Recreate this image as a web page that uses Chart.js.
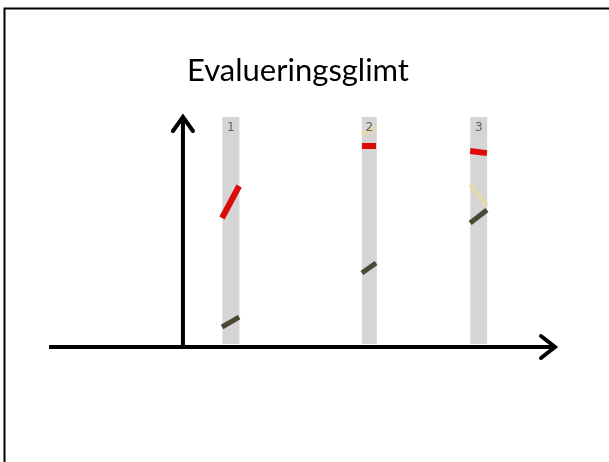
<!DOCTYPE html>
<html>
<head>
<meta charset="utf-8">
<script src="https://cdn.jsdelivr.net/npm/chart.js@4"></script>
<style>
  html, body { margin: 0; padding: 0; background: #fff; }
  #wrap { position: relative; width: 609px; height: 462px; }
</style>
</head>
<body>
<div id="wrap"><canvas id="chartCanvas" width="609" height="462"></canvas></div>
<script>
// values (x: -36..100, y: 0..100)
const titleText = 'Evalueringsglimt';
const stripLabels = ['1', '2', '3'];
const stripX = [12.9, 50.1, 79.5];
const stripBottom = 1.3;
const stripTop = 100;
const segX = [[10.5, 15.1], [48.1, 51.9], [77.2, 81.7]];
const redValues = [[56.1, 70.0], [87.4, 87.4], [85.2, 84.3]];
const beigeValues = [null, [92.2, 95.7], [70.4, 61.7]];
const oliveValues = [[8.7, 13.0], [32.2, 36.5], [53.9, 59.6]];

function segPoints(values){
    let pts = [];
    segX.forEach((xs, i) => {
        if(!values[i]) return;
        pts.push({x: xs[0], y: values[i][0]});
        pts.push({x: xs[1], y: values[i][1]});
        pts.push({x: xs[1], y: null});
    });
    return pts;
}

const stripWidths = [17, 15, 17];
const stripSets = stripX.map((x, i) => ({
    data: [{x: x, y: stripBottom}, {x: x, y: stripTop}],
    borderColor: '#d5d5d5',
    borderWidth: stripWidths[i],
    borderCapStyle: 'butt',
    pointRadius: 0,
    order: 10
}));

const lineSet = (values, color, width) => ({
    data: segPoints(values),
    borderColor: color,
    borderWidth: width,
    borderCapStyle: 'butt',
    pointRadius: 0,
    spanGaps: false,
    order: 1
});

const decor = {
    id: 'decor',
    beforeDraw(chart){
        const c = chart.ctx;
        c.save();
        c.fillStyle = '#fff';
        c.fillRect(0, 0, chart.width, chart.height);
        // slide frame (top and left edges)
        c.strokeStyle = '#000';
        c.lineWidth = 2;
        c.beginPath();
        c.moveTo(4.5, chart.height);
        c.lineTo(4.5, 8.5);
        c.lineTo(chart.width, 8.5);
        c.stroke();
        // title
        c.fillStyle = '#000';
        c.font = '31px Lato, "Open Sans", sans-serif';
        c.textAlign = 'center';
        c.textBaseline = 'alphabetic';
        c.fillText(titleText, 298, 81);
        c.restore();
    },
    afterDatasetsDraw(chart){
        const c = chart.ctx;
        const xs = chart.scales.x, ys = chart.scales.y;
        c.save();
        // strip numbers
        c.fillStyle = '#606060';
        c.font = '12px "DejaVu Sans", sans-serif';
        c.textAlign = 'center';
        c.textBaseline = 'middle';
        stripLabels.forEach((t, i) => c.fillText(t, xs.getPixelForValue(stripX[i]), 128));
        // axes with arrow heads
        const x0 = xs.getPixelForValue(0), y0 = ys.getPixelForValue(0);
        const xl = xs.getPixelForValue(xs.min), xr = xs.getPixelForValue(xs.max);
        const yt = ys.getPixelForValue(ys.max);
        c.strokeStyle = '#000';
        c.lineWidth = 4;
        c.lineCap = 'butt';
        c.beginPath();
        c.moveTo(xl, y0); c.lineTo(xr - 2, y0);
        c.moveTo(x0, y0 + 2); c.lineTo(x0, yt + 2);
        c.stroke();
        c.lineCap = 'round';
        c.lineJoin = 'miter';
        c.beginPath();
        c.moveTo(xr - 14, y0 - 11); c.lineTo(xr, y0); c.lineTo(xr - 14, y0 + 11);
        c.moveTo(x0 - 10, yt + 14); c.lineTo(x0, yt); c.lineTo(x0 + 10, yt + 14);
        c.stroke();
        c.restore();
    }
};

const ctx = document.getElementById('chartCanvas').getContext('2d');
const chart = new Chart(ctx, {
    type: 'line',
    data: { datasets: [
        lineSet(redValues, '#dd0a0a', 6),
        lineSet(oliveValues, '#4b4834', 5),
        lineSet(beigeValues, '#e3dbae', 4),
        ...stripSets
    ]},
    options: {
        responsive: false,
        animation: false,
        layout: { padding: { left: 49, right: 54, top: 117, bottom: 115 } },
        plugins: { legend: { display: false }, tooltip: { enabled: false } },
        scales: {
            x: { type: 'linear', min: -36, max: 100, display: false },
            y: { min: 0, max: 100, display: false }
        }
    },
    plugins: [decor]
});
</script>
</body>
</html>
